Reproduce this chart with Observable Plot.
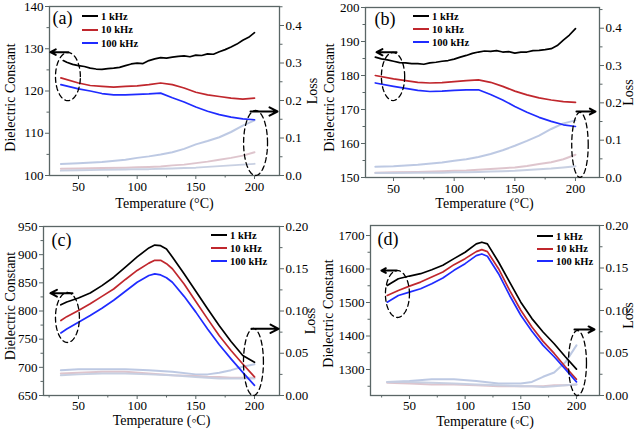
<!DOCTYPE html>
<html><head><meta charset="utf-8">
<script src="https://cdn.jsdelivr.net/npm/d3@7"></script>
<script src="https://cdn.jsdelivr.net/npm/@observablehq/plot@0.6"></script>
<style>
body{margin:0;background:#fff;}
#chart{position:relative;width:636px;height:433px;overflow:hidden;background:#fff;}
#chart svg{position:absolute;left:0;top:0;}
#chart svg text{font-family:"Liberation Serif","Times New Roman",serif !important;}
.leg{position:absolute;font:bold 10.5px "Liberation Serif","Times New Roman",serif;white-space:nowrap;line-height:13px;color:#000;}
.leg .sw{display:inline-block;width:16px;height:0;border-top:2px solid;vertical-align:middle;margin-right:3px;position:relative;top:-1px;}
</style></head><body><div id="chart"></div>
<script>
// ---------- shared labels / colours ----------
const freqs = ["1 kHz", "10 kHz", "100 kHz"];
const freqColors = ["#000000", "#c0272d", "#1f2bff"];
const lossColors = ["#b9c6e2", "#dcc2ca", "#c5cde0"];
const panelLabels = ["(a)", "(b)", "(c)", "(d)"];
const xTitle = "Temperature (°C)";
const xTitleCD = "Temperature (◦C)";
const yTitle = "Dielectric Constant";
const y2Title = "Loss";
const xTicks = [50, 100, 150, 200];

// ---------- panel (a) ----------
const tA1k = [37,40,45,50,55,60,65,70,75,80,85,90,95,100,105,110,115,120,125,130,135,140,145,150,155,160,165,170,175,180,185,190,195,200];
const epsA1k = [127.2,126.8,126.3,126.0,125.8,125.4,125.2,125.1,125.3,125.4,125.6,126.0,126.4,126.6,126.5,127.2,127.6,127.9,127.8,128.0,128.2,128.3,128.1,128.5,128.4,128.8,128.7,129.3,129.8,130.4,131.1,132.0,132.7,133.8];
const tA = [35,50,60,70,80,90,100,110,120,130,140,150,160,170,180,190,200];
const epsA10k = [123.1,121.9,121.3,121.1,120.9,121.1,121.2,121.5,121.9,121.5,120.7,119.7,119.1,118.7,118.3,118.1,118.3];
const epsA100k = [121.5,120.5,120.0,119.4,119.1,119.1,119.2,119.3,119.5,118.4,117.4,116.2,115.2,114.4,113.8,113.4,113.2];
const tLossA = [35,50,70,90,100,110,120,130,140,150,160,170,180,190,200];
const lossA1 = [0.031,0.033,0.036,0.042,0.047,0.051,0.056,0.062,0.071,0.083,0.092,0.102,0.116,0.133,0.147];
const lossA2 = [0.018,0.019,0.020,0.021,0.022,0.023,0.024,0.027,0.029,0.033,0.037,0.042,0.047,0.053,0.062];
const lossA3 = [0.013,0.014,0.015,0.016,0.017,0.017,0.018,0.019,0.020,0.021,0.023,0.025,0.027,0.029,0.031];
const yTicksA = [100,110,120,130,140];
const lossTicksAB = [0.0,0.1,0.2,0.3,0.4];

// ---------- panel (b) ----------
const tB1k = [35,40,45,50,55,60,65,70,75,80,85,90,95,100,105,110,115,120,125,130,135,140,145,150,155,160,165,170,175,180,185,190,195,200];
const epsB1k = [185.4,184.9,184.6,184.2,183.8,183.7,183.5,183.5,183.3,183.7,183.9,184.2,184.4,184.8,185.4,185.9,186.5,186.9,187.2,187.1,187.3,186.9,187.0,186.6,186.9,186.9,187.3,187.4,187.6,187.9,188.8,190.4,191.9,193.8];
const tB = [35,50,60,70,80,90,100,110,120,130,140,150,160,170,180,190,200];
const epsB10k = [180.0,179.0,178.5,178.0,177.8,177.9,178.2,178.5,178.7,178.0,176.8,175.4,174.3,173.4,172.8,172.3,172.1];
const epsB100k = [177.8,176.8,176.2,175.6,175.3,175.4,175.6,175.8,175.8,174.4,172.8,170.9,169.2,167.7,166.5,165.5,165.0];
const tLossB = [35,50,70,90,100,110,120,130,140,150,160,170,180,190,200];
const lossB1 = [0.029,0.030,0.034,0.040,0.045,0.049,0.055,0.063,0.073,0.085,0.098,0.112,0.130,0.145,0.153];
const lossB2 = [0.013,0.014,0.015,0.017,0.018,0.019,0.021,0.023,0.025,0.027,0.031,0.036,0.041,0.049,0.061];
const lossB3 = [0.012,0.012,0.013,0.013,0.014,0.014,0.015,0.016,0.017,0.018,0.020,0.022,0.024,0.027,0.030];
const yTicksB = [150,160,170,180,190,200];

// ---------- panel (c) ----------
const tC = [35,40,50,60,70,80,90,100,110,115,120,125,130,140,150,160,170,180,190,200];
const epsC1k = [811,816,823,832,845,860,878,896,912,917,916,910,896,866,835,804,774,746,721,709];
const epsC10k = [783,790,801,813,826,839,856,872,885,890,890,884,875,848,817,786,756,730,706,683];
const epsC100k = [761,768,780,792,805,819,835,851,863,866,864,859,851,826,798,768,740,715,691,668];
const tLossC = [35,50,70,90,110,130,150,160,170,180,190,200];
const lossC1 = [0.030,0.031,0.031,0.031,0.030,0.028,0.025,0.025,0.027,0.030,0.034,0.037];
const lossC2 = [0.026,0.027,0.028,0.028,0.026,0.024,0.023,0.022,0.022,0.021,0.021,0.021];
const lossC3 = [0.024,0.025,0.026,0.026,0.025,0.024,0.022,0.021,0.020,0.020,0.020,0.020];
const yTicksC = [650,700,750,800,850,900,950];
const lossTicksCD = [0.00,0.05,0.10,0.15,0.20];

// ---------- panel (d) ----------
const tD = [30,40,50,60,70,80,90,100,110,115,120,130,140,150,160,170,180,190,200];
const epsD1k = [1551,1571,1579,1586,1598,1611,1631,1650,1675,1680,1675,1621,1561,1501,1452,1412,1377,1338,1301];
const epsD10k = [1521,1536,1549,1561,1576,1591,1613,1631,1652,1658,1652,1601,1536,1477,1427,1384,1348,1308,1271];
const epsD100k = [1501,1521,1531,1541,1556,1573,1596,1616,1640,1645,1638,1586,1521,1462,1414,1372,1338,1301,1263];
const tLossD = [30,50,70,90,110,130,150,160,170,180,190,200];
const lossD1 = [0.016,0.017,0.019,0.019,0.017,0.014,0.014,0.016,0.022,0.027,0.039,0.059];
const lossD2 = [0.015,0.014,0.013,0.013,0.012,0.011,0.011,0.011,0.011,0.012,0.012,0.013];
const lossD3 = [0.016,0.016,0.015,0.014,0.013,0.012,0.011,0.011,0.010,0.011,0.012,0.013];
const yTicksD = [1300,1400,1500,1600,1700];

// ---------- annotations (data units of the left axis) ----------
const ellipsesA = [{cx:41.0, cy:123.4, rx:10.6, ry:5.7}, {cx:200.9, cy:107.7, rx:10.2, ry:7.7}];
const arrowsA = [{x1:41.5, x2:26.1, y:129.2}, {x1:196.6, x2:219.6, y:115.15}];
const ellipsesB = [{cx:49.6, cy:179.7, rx:9.6, ry:7.06}, {cx:203.7, cy:159.6, rx:6.8, ry:9.56}];
const arrowsB = [{x1:52.5, x2:36, y:186.85}, {x1:200.8, x2:216.5, y:169.4}];
const ellipsesC = [{cx:40.6, cy:788.5, rx:10.2, ry:44.4}, {cx:199.1, cy:709.5, rx:8.5, ry:59.5}];
const arrowsC = [{x1:44.9, x2:26.1, y:831.6}, {x1:197.4, x2:220.5, y:768.4}];
const ellipsesD = [{cx:39.2, cy:1525.4, rx:10.8, ry:70.1}, {cx:200.9, cy:1319.4, rx:8.1, ry:97}];
const arrowsD = [{x1:38.3, x2:24.8, y:1595.5}, {x1:198.2, x2:216.2, y:1419.4}];

// ---------- drawing ----------
const axisColor = "#5a6666";
const FONT = "'Liberation Serif','Times New Roman',serif";
const W = 636, H = 433;

function rows(T, V) { return T.map((t, i) => ({T: t, v: V[i]})); }
function ellipsePts(e) {
  return d3.range(0, 73).map(i => {
    const a = i / 72 * 2 * Math.PI;
    return {T: e.cx + e.rx * Math.cos(a), v: e.cy + e.ry * Math.sin(a)};
  });
}
function minorBetween(ticks, dom) {
  const step = ticks[1] - ticks[0];
  const out = [];
  for (let k = ticks[0] - step / 2; k <= dom[1] + 1e-9; k += step) if (k >= dom[0] - 1e-9) out.push(+k.toFixed(4));
  return out;
}

const chart = document.getElementById("chart");

function panel(p) {
  const base = {
    width: W, height: H,
    marginLeft: p.frame[0], marginRight: W - p.frame[1], marginTop: p.frame[2], marginBottom: H - p.frame[3],
    style: {background: "transparent", fontFamily: FONT, fontSize: "13px", color: "black"}
  };
  const xMinor = minorBetween(xTicks, p.xDomain);
  const txt = {fontFamily: FONT, fill: "black"};
  const lossPlot = Plot.plot({
    ...base,
    x: {domain: p.xDomain, axis: null, label: null},
    y: {domain: p.lossDomain, axis: null, label: null},
    marks: [
      ...p.loss.map((s, i) => Plot.line(rows(s[0], s[1]), {x: "T", y: "v", stroke: lossColors[i], strokeWidth: 2, strokeOpacity: 0.95})),
      Plot.axisY({anchor: "right", ticks: p.lossTicks, tickFormat: d3.format(p.lossFmt), tickSize: 4, tickPadding: 2, stroke: axisColor, ...txt, fontSize: 13, label: null}),
      Plot.axisY({anchor: "right", ticks: minorBetween(p.lossTicks, p.lossDomain), tickFormat: () => "", tickSize: 2.5, stroke: axisColor, label: null}),
      Plot.text([y2Title], {frameAnchor: "right", dx: p.lossTitle[0], dy: p.lossTitle[1], rotate: -90, textAnchor: "middle", lineAnchor: "middle", fontSize: 14, ...txt})
    ]
  });
  const mainPlot = Plot.plot({
    ...base,
    x: {domain: p.xDomain, axis: null, label: null},
    y: {domain: p.yDomain, axis: null, label: null},
    marks: [
      Plot.frame({stroke: axisColor, strokeWidth: 1.3}),
      Plot.axisX({ticks: xTicks, tickFormat: d3.format("d"), tickSize: 4, tickPadding: p.xPad, stroke: axisColor, ...txt, fontSize: 13, label: null}),
      Plot.axisX({ticks: xMinor, tickSize: 2.5, tickFormat: () => "", stroke: axisColor, label: null}),
      Plot.axisY({anchor: "left", ticks: p.yTicks, tickFormat: d3.format("d"), tickSize: 4, tickPadding: 2, stroke: axisColor, ...txt, fontSize: 13, label: null}),
      Plot.axisY({anchor: "left", ticks: minorBetween(p.yTicks, p.yDomain), tickFormat: () => "", tickSize: 2.5, stroke: axisColor, label: null}),
      ...p.main.map((s, i) => Plot.line(rows(s[0], s[1]), {x: "T", y: "v", stroke: freqColors[i], strokeWidth: 1.7})),
      ...p.ellipses.map(e => Plot.line(ellipsePts(e), {x: "T", y: "v", stroke: "black", strokeWidth: 1.3, strokeDasharray: "5,3.5"})),
      Plot.arrow(p.arrows, {x1: "x1", x2: "x2", y1: "y", y2: "y", stroke: "black", strokeWidth: 2, headLength: 7, headAngle: 55}),
      Plot.text([p.label], {frameAnchor: "top-left", dx: p.labelPos[0], dy: p.labelPos[1], textAnchor: "middle", lineAnchor: "middle", fontSize: 18, ...txt}),
      Plot.text([yTitle], {frameAnchor: "left", dx: p.yTitle[0], dy: p.yTitle[1], rotate: -90, textAnchor: "middle", lineAnchor: "middle", fontSize: 14, ...txt}),
      Plot.text([p.xTitleText], {frameAnchor: "bottom", dx: p.xTitle[0], dy: p.xTitle[1], textAnchor: "middle", lineAnchor: "middle", fontSize: 14, ...txt})
    ]
  });
  chart.appendChild(lossPlot);
  chart.appendChild(mainPlot);
  freqs.forEach((f, i) => {
    const d = document.createElement("div");
    d.className = "leg";
    d.style.left = p.legend[0] + "px";
    d.style.top = (p.legend[1] + i * p.legend[2] - 6.5) + "px";
    d.innerHTML = `<span class="sw" style="border-color:${freqColors[i]}"></span>${f}`;
    chart.appendChild(d);
  });
}

panel({
  frame: [49, 279, 6, 175], xDomain: [25.3, 221.3], yDomain: [100, 140], yTicks: yTicksA,
  lossDomain: [0, 0.4507], lossTicks: lossTicksAB, lossFmt: ".1f", xPad: 2,
  main: [[tA1k, epsA1k], [tA, epsA10k], [tA, epsA100k]],
  loss: [[tLossA, lossA1], [tLossA, lossA2], [tLossA, lossA3]],
  ellipses: ellipsesA, arrows: arrowsA, label: panelLabels[0], labelPos: [13, 12],
  yTitle: [-39, 6.5], xTitle: [0, 28], xTitleText: xTitle, lossTitle: [33, 0], legend: [82, 16, 13.5]
});
panel({
  frame: [365, 599, 7, 177], xDomain: [26.9, 219.8], yDomain: [150, 200], yTicks: yTicksB,
  lossDomain: [0, 0.4555], lossTicks: lossTicksAB, lossFmt: ".1f", xPad: 2,
  main: [[tB1k, epsB1k], [tB, epsB10k], [tB, epsB100k]],
  loss: [[tLossB, lossB1], [tLossB, lossB2], [tLossB, lossB3]],
  ellipses: ellipsesB, arrows: arrowsB, label: panelLabels[1], labelPos: [19.5, 12],
  yTitle: [-36, 5], xTitle: [2, 26], xTitleText: xTitle, lossTitle: [29, 0], legend: [413, 16, 13]
});
panel({
  frame: [43, 279, 226, 395], xDomain: [20.2, 221.3], yDomain: [650, 950], yTicks: yTicksC,
  lossDomain: [0, 0.2], lossTicks: lossTicksCD, lossFmt: ".2f", xPad: 1,
  main: [[tC, epsC1k], [tC, epsC10k], [tC, epsC100k]],
  loss: [[tLossC, lossC1], [tLossC, lossC2], [tLossC, lossC3]],
  ellipses: ellipsesC, arrows: arrowsC, label: panelLabels[2], labelPos: [18, 14],
  yTitle: [-33, -5], xTitle: [0, 25.5], xTitleText: xTitleCD, lossTitle: [31, 10], legend: [211, 235, 13]
});
panel({
  frame: [370, 599, 225, 395], xDomain: [15.0, 220.7], yDomain: [1222.4, 1729.9], yTicks: yTicksD,
  lossDomain: [0, 0.2], lossTicks: lossTicksCD, lossFmt: ".2f", xPad: 1,
  main: [[tD, epsD1k], [tD, epsD10k], [tD, epsD100k]],
  loss: [[tLossD, lossD1], [tLossD, lossD2], [tLossD, lossD3]],
  ellipses: ellipsesD, arrows: arrowsD, label: panelLabels[3], labelPos: [17.5, 14],
  yTitle: [-42, 3], xTitle: [0, 26], xTitleText: xTitleCD, lossTitle: [29, 5], legend: [537, 236, 12.5]
});
</script></body></html>
